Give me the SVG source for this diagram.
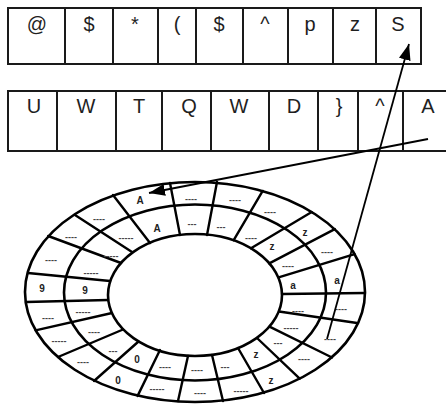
<svg xmlns="http://www.w3.org/2000/svg" width="446" height="404" viewBox="0 0 446 404">
<style>
.cell{fill:none;stroke:#1a1a1a;stroke-width:2}
.ch{font-family:"Liberation Sans",Arial,sans-serif;font-size:20px;fill:#1f1f1f;text-anchor:middle}
.ring{fill:none;stroke:#000;stroke-width:2.6}
.seg{stroke:#000;stroke-width:2.4;stroke-linecap:round}
.d{font-family:"Liberation Sans",Arial,sans-serif;font-size:9px;font-weight:bold;fill:#444;text-anchor:middle}
.l{font-family:"Liberation Sans",Arial,sans-serif;font-size:10px;font-weight:bold;fill:#222;text-anchor:middle}
.arr{stroke:#000;stroke-width:1.8;fill:none}
</style>
<defs>
<marker id="ah" markerUnits="userSpaceOnUse" markerWidth="16" markerHeight="12" viewBox="0 0 16 12" refX="16" refY="6" orient="auto">
<path d="M0,0 L16,6 L0,12 z" fill="#000"/>
</marker>
</defs>
<g id="row1">
<rect class="cell" x="8" y="8" width="413" height="56"/>
<path class="cell" d="M65,8V64M113,8V64M158,8V64M196,8V64M243,8V64M288,8V64M333,8V64M376,8V64"/>
<text class="ch" x="37" y="31">@</text>
<text class="ch" x="89" y="31">$</text>
<text class="ch" x="135" y="31">*</text>
<text class="ch" x="177" y="31">(</text>
<text class="ch" x="219" y="31">$</text>
<text class="ch" x="265" y="31">^</text>
<text class="ch" x="310" y="31">p</text>
<text class="ch" x="355" y="31">z</text>
<text class="ch" x="398" y="31">S</text>
</g>
<g id="row2">
<path class="cell" d="M446,91H8V151H446"/>
<path class="cell" d="M57,91V151M116,91V151M162,91V151M211,91V151M269,91V151M318,91V151M358,91V151M403,91V151"/>
<text class="ch" x="34" y="113">U</text>
<text class="ch" x="86" y="113">W</text>
<text class="ch" x="139" y="113">T</text>
<text class="ch" x="189" y="113">Q</text>
<text class="ch" x="239" y="113">W</text>
<text class="ch" x="294" y="113">D</text>
<text class="ch" x="339" y="113">}</text>
<text class="ch" x="380" y="113">^</text>
<text class="ch" x="428" y="113">A</text>
</g>
<g id="wheel">
<ellipse class="ring" cx="195" cy="292" rx="170" ry="110"/>
<ellipse class="ring" cx="195" cy="292.5" rx="131" ry="88"/>
<ellipse class="ring" cx="195" cy="295" rx="87" ry="61"/>
<g id="spokes">
<line class="seg" x1="180" y1="235" x2="170" y2="183"/>
<line class="seg" x1="150" y1="243" x2="113" y2="195"/>
<line class="seg" x1="132" y1="252" x2="75" y2="215"/>
<line class="seg" x1="121" y1="263" x2="48.2" y2="236"/>
<line class="seg" x1="110" y1="281" x2="28" y2="273"/>
<line class="seg" x1="108" y1="300" x2="26" y2="302"/>
<line class="seg" x1="112" y1="313" x2="35.5" y2="330.3"/>
<line class="seg" x1="123" y1="329.5" x2="58" y2="357"/>
<line class="seg" x1="138.5" y1="341.5" x2="94" y2="381"/>
<line class="seg" x1="160" y1="350" x2="137.6" y2="395.9"/>
<line class="seg" x1="188" y1="356" x2="178" y2="401"/>
<line class="seg" x1="212" y1="355" x2="223" y2="401"/>
<line class="seg" x1="238" y1="348" x2="264" y2="393"/>
<line class="seg" x1="257" y1="338" x2="299.7" y2="378.7"/>
<line class="seg" x1="269.5" y1="326.7" x2="332" y2="357.5"/>
<line class="seg" x1="279" y1="311.5" x2="357" y2="323"/>
<line class="seg" x1="282" y1="294" x2="365" y2="293"/>
<line class="seg" x1="278.6" y1="277.4" x2="354.6" y2="254.2"/>
<line class="seg" x1="269.3" y1="263.4" x2="334.8" y2="229.1"/>
<line class="seg" x1="251" y1="248.3" x2="311.7" y2="212"/>
<line class="seg" x1="233.7" y1="240.2" x2="262.7" y2="190.9"/>
<line class="seg" x1="207" y1="235" x2="217" y2="182"/>
</g>
<g id="outer-labels">
<text class="l" x="140" y="204">A</text>
<text class="d" x="191" y="202">----</text>
<text class="d" x="235" y="203">----</text>
<text class="d" x="270" y="215">----</text>
<text class="l" x="305" y="236">z</text>
<text class="d" x="327" y="255">----</text>
<text class="l" x="337" y="284">a</text>
<text class="d" x="341" y="312">----</text>
<text class="d" x="330" y="341.5">----</text>
<text class="d" x="304" y="362">----</text>
<text class="l" x="271" y="384">z</text>
<text class="d" x="241" y="394">-----</text>
<text class="d" x="200" y="396">----</text>
<text class="d" x="157" y="392">-----</text>
<text class="l" x="118" y="384">0</text>
<text class="d" x="83" y="365">----</text>
<text class="d" x="59" y="344">-----</text>
<text class="d" x="48" y="321">----</text>
<text class="l" x="42" y="292">9</text>
<text class="d" x="51" y="263">----</text>
<text class="d" x="71" y="240">----</text>
<text class="d" x="99" y="222">----</text>
</g>
<g id="inner-labels">
<text class="l" x="157" y="232">A</text>
<text class="d" x="192" y="227">---</text>
<text class="d" x="221" y="230">---</text>
<text class="d" x="251" y="241">----</text>
<text class="l" x="272" y="250">z</text>
<text class="d" x="288" y="269">----</text>
<text class="l" x="293" y="289">a</text>
<text class="d" x="298" y="314">----</text>
<text class="d" x="291" y="331">-----</text>
<text class="d" x="278" y="346">---</text>
<text class="l" x="256" y="358">z</text>
<text class="d" x="225" y="370">---</text>
<text class="d" x="197" y="373">----</text>
<text class="d" x="165" y="370">----</text>
<text class="l" x="137" y="363">0</text>
<text class="d" x="113" y="354">---</text>
<text class="d" x="94" y="335">----</text>
<text class="d" x="83" y="315">-----</text>
<text class="l" x="85" y="294">9</text>
<text class="d" x="91" y="276">-----</text>
<text class="d" x="111" y="259">-----</text>
<text class="d" x="126" y="241">-----</text>
</g>
</g>
<g id="connectors">
<line class="arr" x1="428" y1="139" x2="149" y2="193" marker-end="url(#ah)"/>
<line class="arr" x1="327" y1="339" x2="409" y2="44" marker-end="url(#ah)"/>
</g>
</svg>
